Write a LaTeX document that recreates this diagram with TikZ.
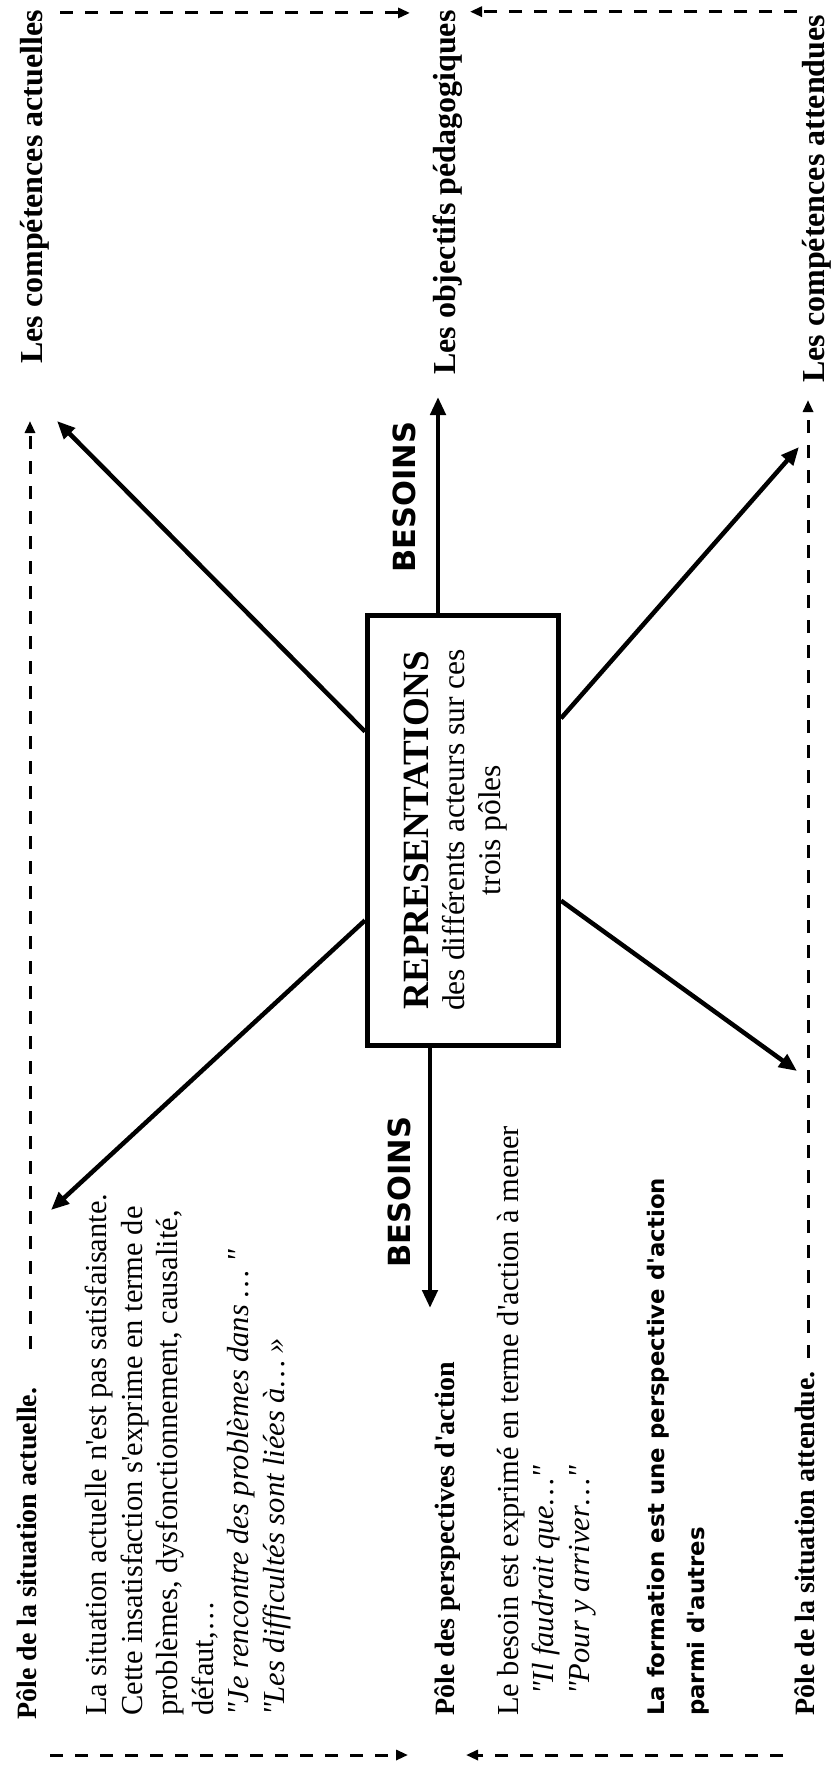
\documentclass[tikz,border=0pt]{standalone}
\usepackage{fontspec}
\setmainfont{Liberation Serif}
\newfontfamily\serifplain{Liberation Serif}
\newfontfamily\sansfam{DejaVu Sans}
\usetikzlibrary{arrows.meta,calc}
\begin{document}
\begin{tikzpicture}[x=1pt,y=-1pt,
  lbl/.style={rotate=90, inner sep=0pt, anchor=base west},
  para/.style={rotate=90, inner sep=0pt, anchor=north west, align=left},
  titlefont/.style={font=\serifplain\fontsize{28}{32}\selectfont\bfseries},
  labelfont/.style={font=\serifplain\fontsize{32}{36}\selectfont\bfseries},
  besfont/.style={font=\sansfam\bfseries\fontsize{30.5}{34}\selectfont},
  bodyfont/.style={font=\serifplain\fontsize{30.5}{35.5}\selectfont},
  formfont/.style={font=\sansfam\bfseries\fontsize{22.8}{40}\selectfont},
  solidarrow/.style={line width=4.5pt, -{Triangle[length=18pt,width=15pt]}},
  dasharrow/.style={line width=3pt, dash pattern=on 13pt off 12pt, -{Triangle[length=12pt,width=10pt]}},
  boxstyle/.style={draw, line width=5pt, minimum width=191pt, minimum height=430pt, inner sep=0pt}
]
\useasboundingbox[fill=white] (0,0) rectangle (830,1771);

% central box
\node[boxstyle] (box) at (463,830) {};
\node[rotate=90, inner sep=0pt, anchor=north, align=center, font=\serifplain\fontsize{31.5}{36}\selectfont] (rep) at (404,830)
  {{\fontsize{37}{40}\selectfont\bfseries REPRESENTATIONS}\\des différents acteurs sur ces\\trois pôles};

% pole titles
\node[lbl, titlefont] (titleA) at (36,1720) {Pôle de la situation actuelle.};
\node[lbl, titlefont] (titleP) at (454,1716) {Pôle des perspectives d'action};
\node[lbl, titlefont] (titleE) at (814,1716) {Pôle de la situation attendue.};

% right column labels
\node[lbl, labelfont] (compA) at (42,364) {Les compétences actuelles};
\node[lbl, labelfont] (objP) at (455,375) {Les objectifs pédagogiques};
\node[lbl, labelfont] (compE) at (824,383) {Les compétences attendues};

% BESOINS
\node[lbl, besfont] (besU) at (415,573) {BESOINS};
\node[lbl, besfont] (besL) at (410,1268) {BESOINS};

% paragraphs
\node[para, bodyfont] (para1) at (85,1716)
  {La situation actuelle n'est pas satisfaisante.\\
   Cette insatisfaction s'exprime en terme de\\
   problèmes, dysfonctionnement, causalité,\\
   défaut,…\\
   \textit{"Je rencontre des problèmes dans … "}\\
   \textit{"Les difficultés sont liées à… »}};
\node[para, bodyfont] (para2) at (497,1716)
  {Le besoin est exprimé en terme d'action à mener\\
   \hspace*{21pt}\textit{"Il faudrait que…"}\\
   \hspace*{21pt}\textit{"Pour y arriver…"}};
\node[para, formfont] (form) at (647,1716)
  {La formation est une perspective d'action\\parmi d'autres};

% free ends of the solid arrows
\coordinate (tipUL) at (57,421);
\coordinate (tipUR) at (799,447);
\coordinate (tipLL) at (51,1210);
\coordinate (tipLR) at (797,1071);
\coordinate (tipU) at (438,397);
\coordinate (tipD) at (430,1308);

% solid arrows
\draw[solidarrow] (box) -- (tipUL);
\draw[solidarrow] (box) -- (tipUR);
\draw[solidarrow] (box) -- (tipLL);
\draw[solidarrow] (box) -- (tipLR);
\draw[solidarrow] (tipU |- box.north) -- (tipU);
\draw[solidarrow] (tipD |- box.south) -- (tipD);

% dashed arrows (ends placed next to the labels)
\coordinate (dL1) at ($(titleA.base east)+(-6,-39)$);
\coordinate (dL2) at ($(compA.base west)+(-11,57)$);
\coordinate (dR1) at ($(titleE.base east)+(-6,-13)$);
\coordinate (dR2) at ($(compE.base west)+(-15,17)$);
\coordinate (dT1) at ($(compA.base east)+(18,3)$);
\coordinate (dT2) at ($(objP.base east)+(-45,0)$);
\coordinate (dT3) at ($(compE.base east)+(-27,-3)$);
\coordinate (dT4) at ($(objP.base east)+(15,0)$);
\coordinate (dB1) at ($(titleA.base west)+(14,35)$);
\coordinate (dB2) at ($(titleP.base west)+(-46,0)$);
\coordinate (dB3) at ($(titleE.base west)+(-31,39)$);
\coordinate (dB4) at ($(titleP.base west)+(12,0)$);

\draw[dasharrow] (dL1) -- (dL1 |- dL2);
\draw[dasharrow] (dR1) -- (dR1 |- dR2);
\draw[dasharrow] (dT1) -- (dT1 -| dT2);
\draw[dasharrow] (dT3) -- (dT3 -| dT4);
\draw[dasharrow] (dB1) -- (dB1 -| dB2);
\draw[dasharrow] (dB3) -- (dB3 -| dB4);
\end{tikzpicture}
\end{document}
